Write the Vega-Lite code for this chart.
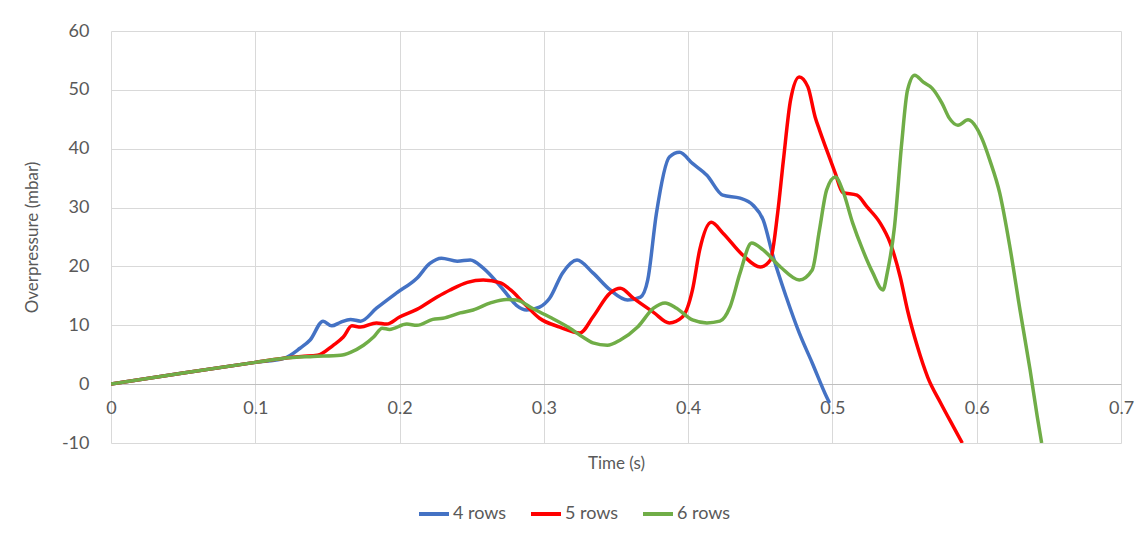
{
  "$schema": "https://vega.github.io/schema/vega-lite/v6.json",
  "width": 1010,
  "height": 412,
  "autosize": {"type": "none"},
  "padding": {"left": 111, "top": 31, "right": 20, "bottom": 92},
  "background": "white",
  "config": {
    "font": "Lato",
    "view": {"stroke": null},
    "axis": {"labelFont": "Lato", "titleFont": "Lato", "labelColor": "#595959", "titleColor": "#595959", "labelFontSize": 18, "titleFontSize": 17, "titleFontWeight": "normal", "gridColor": "#d9d9d9", "gridWidth": 1, "ticks": false}
  },
  "data": {"values": [
    {"s":"4 rows","t":0,"p":0},{"s":"4 rows","t":0.05,"p":1.9},{"s":"4 rows","t":0.1,"p":3.7},{"s":"4 rows","t":0.12,"p":4.4},
    {"s":"4 rows","t":0.131,"p":6.1},{"s":"4 rows","t":0.138,"p":7.5},{"s":"4 rows","t":0.147,"p":10.7},{"s":"4 rows","t":0.153,"p":9.9},
    {"s":"4 rows","t":0.159,"p":10.5},{"s":"4 rows","t":0.166,"p":11},{"s":"4 rows","t":0.173,"p":10.7},{"s":"4 rows","t":0.184,"p":12.9},
    {"s":"4 rows","t":0.198,"p":15.5},{"s":"4 rows","t":0.212,"p":18},{"s":"4 rows","t":0.221,"p":20.5},{"s":"4 rows","t":0.229,"p":21.4},
    {"s":"4 rows","t":0.24,"p":20.9},{"s":"4 rows","t":0.249,"p":21.1},{"s":"4 rows","t":0.258,"p":19.7},{"s":"4 rows","t":0.272,"p":16},
    {"s":"4 rows","t":0.281,"p":13.4},{"s":"4 rows","t":0.288,"p":12.6},{"s":"4 rows","t":0.297,"p":13.1},{"s":"4 rows","t":0.304,"p":14.6},
    {"s":"4 rows","t":0.313,"p":18.9},{"s":"4 rows","t":0.323,"p":21.1},{"s":"4 rows","t":0.334,"p":18.9},{"s":"4 rows","t":0.346,"p":16},
    {"s":"4 rows","t":0.358,"p":14.3},{"s":"4 rows","t":0.367,"p":14.8},{"s":"4 rows","t":0.372,"p":17.7},{"s":"4 rows","t":0.378,"p":29},
    {"s":"4 rows","t":0.387,"p":38.6},{"s":"4 rows","t":0.394,"p":39.4},{"s":"4 rows","t":0.403,"p":37.5},{"s":"4 rows","t":0.413,"p":35.5},
    {"s":"4 rows","t":0.424,"p":32.1},{"s":"4 rows","t":0.436,"p":31.6},{"s":"4 rows","t":0.445,"p":30.4},{"s":"4 rows","t":0.452,"p":27.9},
    {"s":"4 rows","t":0.459,"p":21.6},{"s":"4 rows","t":0.468,"p":14.8},{"s":"4 rows","t":0.477,"p":8.7},{"s":"4 rows","t":0.486,"p":3.6},
    {"s":"4 rows","t":0.496,"p":-2.2},{"s":"4 rows","t":0.498,"p":-3.2},

    {"s":"5 rows","t":0,"p":0},{"s":"5 rows","t":0.05,"p":1.9},{"s":"5 rows","t":0.1,"p":3.7},{"s":"5 rows","t":0.12,"p":4.4},
    {"s":"5 rows","t":0.132,"p":4.7},{"s":"5 rows","t":0.143,"p":4.9},{"s":"5 rows","t":0.154,"p":6.6},{"s":"5 rows","t":0.161,"p":8},
    {"s":"5 rows","t":0.167,"p":9.9},{"s":"5 rows","t":0.173,"p":9.7},{"s":"5 rows","t":0.184,"p":10.4},{"s":"5 rows","t":0.191,"p":10.2},
    {"s":"5 rows","t":0.2,"p":11.4},{"s":"5 rows","t":0.212,"p":12.7},{"s":"5 rows","t":0.226,"p":14.8},{"s":"5 rows","t":0.235,"p":16},
    {"s":"5 rows","t":0.247,"p":17.3},{"s":"5 rows","t":0.258,"p":17.7},{"s":"5 rows","t":0.27,"p":17.2},{"s":"5 rows","t":0.277,"p":16},
    {"s":"5 rows","t":0.286,"p":13.8},{"s":"5 rows","t":0.297,"p":11.2},{"s":"5 rows","t":0.311,"p":9.7},{"s":"5 rows","t":0.325,"p":8.7},
    {"s":"5 rows","t":0.334,"p":11.4},{"s":"5 rows","t":0.346,"p":15.5},{"s":"5 rows","t":0.353,"p":16.3},{"s":"5 rows","t":0.362,"p":14.6},
    {"s":"5 rows","t":0.376,"p":12.2},{"s":"5 rows","t":0.387,"p":10.4},{"s":"5 rows","t":0.396,"p":11.4},{"s":"5 rows","t":0.403,"p":16},
    {"s":"5 rows","t":0.408,"p":22.8},{"s":"5 rows","t":0.416,"p":27.5},{"s":"5 rows","t":0.424,"p":25.7},{"s":"5 rows","t":0.438,"p":21.9},
    {"s":"5 rows","t":0.45,"p":19.9},{"s":"5 rows","t":0.457,"p":21.1},{"s":"5 rows","t":0.462,"p":29},{"s":"5 rows","t":0.466,"p":38},
    {"s":"5 rows","t":0.471,"p":48.3},{"s":"5 rows","t":0.477,"p":52.2},{"s":"5 rows","t":0.483,"p":50.5},{"s":"5 rows","t":0.488,"p":45.4},
    {"s":"5 rows","t":0.491,"p":43.2},{"s":"5 rows","t":0.496,"p":39.8},{"s":"5 rows","t":0.502,"p":35.8},{"s":"5 rows","t":0.507,"p":32.6},
    {"s":"5 rows","t":0.517,"p":32.1},{"s":"5 rows","t":0.524,"p":30.1},{"s":"5 rows","t":0.533,"p":27.4},{"s":"5 rows","t":0.54,"p":24},
    {"s":"5 rows","t":0.547,"p":18.2},{"s":"5 rows","t":0.552,"p":12.6},{"s":"5 rows","t":0.559,"p":6.3},{"s":"5 rows","t":0.566,"p":1.2},
    {"s":"5 rows","t":0.575,"p":-3.2},{"s":"5 rows","t":0.584,"p":-7.3},{"s":"5 rows","t":0.59,"p":-10},

    {"s":"6 rows","t":0,"p":0},{"s":"6 rows","t":0.05,"p":1.9},{"s":"6 rows","t":0.1,"p":3.7},{"s":"6 rows","t":0.12,"p":4.4},
    {"s":"6 rows","t":0.14,"p":4.7},{"s":"6 rows","t":0.159,"p":4.9},{"s":"6 rows","t":0.166,"p":5.4},{"s":"6 rows","t":0.175,"p":6.6},
    {"s":"6 rows","t":0.182,"p":8},{"s":"6 rows","t":0.188,"p":9.5},{"s":"6 rows","t":0.193,"p":9.3},{"s":"6 rows","t":0.205,"p":10.2},
    {"s":"6 rows","t":0.212,"p":10},{"s":"6 rows","t":0.223,"p":11},{"s":"6 rows","t":0.23,"p":11.2},{"s":"6 rows","t":0.242,"p":12.1},
    {"s":"6 rows","t":0.251,"p":12.6},{"s":"6 rows","t":0.263,"p":13.8},{"s":"6 rows","t":0.274,"p":14.4},{"s":"6 rows","t":0.281,"p":14.3},
    {"s":"6 rows","t":0.292,"p":12.9},{"s":"6 rows","t":0.304,"p":11.4},{"s":"6 rows","t":0.318,"p":9.5},{"s":"6 rows","t":0.327,"p":8},
    {"s":"6 rows","t":0.334,"p":7},{"s":"6 rows","t":0.344,"p":6.6},{"s":"6 rows","t":0.353,"p":7.5},{"s":"6 rows","t":0.365,"p":9.7},
    {"s":"6 rows","t":0.376,"p":12.9},{"s":"6 rows","t":0.384,"p":13.8},{"s":"6 rows","t":0.392,"p":12.9},{"s":"6 rows","t":0.403,"p":10.9},
    {"s":"6 rows","t":0.413,"p":10.4},{"s":"6 rows","t":0.422,"p":10.7},{"s":"6 rows","t":0.429,"p":13.1},{"s":"6 rows","t":0.436,"p":18.9},
    {"s":"6 rows","t":0.444,"p":24},{"s":"6 rows","t":0.452,"p":22.8},{"s":"6 rows","t":0.464,"p":19.9},{"s":"6 rows","t":0.477,"p":17.7},
    {"s":"6 rows","t":0.486,"p":19.4},{"s":"6 rows","t":0.491,"p":26.2},{"s":"6 rows","t":0.496,"p":33},{"s":"6 rows","t":0.502,"p":35.2},
    {"s":"6 rows","t":0.507,"p":33},{"s":"6 rows","t":0.514,"p":27.4},{"s":"6 rows","t":0.521,"p":22.8},{"s":"6 rows","t":0.528,"p":18.9},
    {"s":"6 rows","t":0.535,"p":16},{"s":"6 rows","t":0.538,"p":18.9},{"s":"6 rows","t":0.543,"p":26.7},{"s":"6 rows","t":0.548,"p":40.9},
    {"s":"6 rows","t":0.552,"p":49.9},{"s":"6 rows","t":0.557,"p":52.5},{"s":"6 rows","t":0.563,"p":51.3},{"s":"6 rows","t":0.569,"p":50.3},
    {"s":"6 rows","t":0.576,"p":47.7},{"s":"6 rows","t":0.581,"p":45.2},{"s":"6 rows","t":0.587,"p":44},{"s":"6 rows","t":0.594,"p":44.9},
    {"s":"6 rows","t":0.6,"p":43.5},{"s":"6 rows","t":0.604,"p":41.5},{"s":"6 rows","t":0.609,"p":38.1},{"s":"6 rows","t":0.616,"p":32.4},
    {"s":"6 rows","t":0.623,"p":23.3},{"s":"6 rows","t":0.63,"p":12.6},{"s":"6 rows","t":0.637,"p":2.4},{"s":"6 rows","t":0.642,"p":-5.6},
    {"s":"6 rows","t":0.645,"p":-10}
  ]},
  "mark": {"type": "line", "strokeWidth": 3.5, "interpolate": "monotone", "clip": true},
  "encoding": {
    "x": {"field": "t", "type": "quantitative", "title": "Time (s)",
      "scale": {"domain": [0, 0.7], "nice": false},
      "axis": {"values": [0, 0.1, 0.2, 0.3, 0.4, 0.5, 0.6, 0.7], "format": "~g", "offset": -59, "labelPadding": 15, "domainColor": "#bfbfbf", "titleY": 79, "titleBaseline": "middle", "labelFlush": false}},
    "y": {"field": "p", "type": "quantitative", "title": "Overpressure (mbar)",
      "scale": {"domain": [-10, 60], "nice": false},
      "axis": {"values": [-10, 0, 10, 20, 30, 40, 50, 60], "labelExpr": "'' + datum.value", "domain": false, "labelPadding": 22, "titlePadding": 20}},
    "color": {"field": "s", "type": "nominal", "title": null,
      "scale": {"domain": ["4 rows", "5 rows", "6 rows"], "range": ["#4472C4", "#FF0000", "#70AD47"]},
      "legend": {"orient": "none", "legendX": 306, "legendY": 466, "direction": "horizontal", "symbolType": "stroke", "symbolSize": 900, "symbolStrokeWidth": 4, "labelFontSize": 18, "labelFont": "Lato", "labelColor": "#595959", "columnPadding": 16, "labelOffset": 2}}
  }
}
